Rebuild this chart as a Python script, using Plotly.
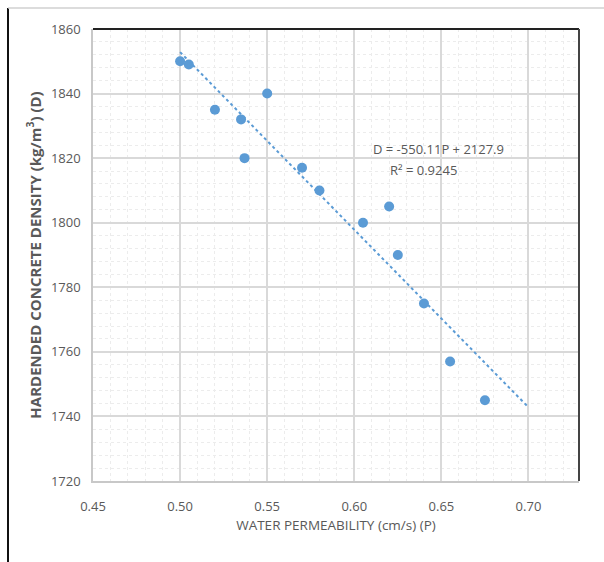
import plotly.graph_objects as go

# Data
permeability = [0.500, 0.505, 0.520, 0.535, 0.537, 0.550, 0.570, 0.580, 0.605, 0.620, 0.625, 0.640, 0.655, 0.675]
density = [1850, 1849, 1835, 1832, 1820, 1840, 1817, 1810, 1800, 1805, 1790, 1775, 1757, 1745]

# Linear trendline shown in the chart
slope = -550.11
intercept = 2127.9
trend_x = [0.50, 0.70]
trend_y = [slope * x + intercept for x in trend_x]

x_ticks = [0.45, 0.50, 0.55, 0.60, 0.65, 0.70]
y_ticks = [1720, 1740, 1760, 1780, 1800, 1820, 1840, 1860]

blue = "#5B9BD5"
font_family = "Open Sans, Liberation Sans, sans-serif"

fig = go.Figure()
fig.add_trace(go.Scatter(
    x=trend_x, y=trend_y, mode="lines",
    line=dict(color=blue, width=2, dash="dot"),
    hoverinfo="skip", showlegend=False))
fig.add_trace(go.Scatter(
    x=permeability, y=density, mode="markers",
    marker=dict(color=blue, size=10),
    showlegend=False))

W, H = 604, 562
L, R, T, B = 93, 25, 29, 81
pw, ph = W - L - R, H - T - B

def px(x):
    return (x - L) / pw

def py(y):
    return (H - B - y) / ph

fig.add_annotation(xref="paper", yref="paper", x=px(438), y=py(149),
                   xanchor="center", yanchor="middle",
                   text="D = -550.11P + 2127.9", showarrow=False,
                   font=dict(size=13, color="#595959", family=font_family))
fig.add_annotation(xref="paper", yref="paper", x=px(423), y=py(170),
                   xanchor="center", yanchor="middle",
                   text="R² = 0.9245", showarrow=False,
                   font=dict(size=13, color="#595959", family=font_family))

# outer frame lines
fig.add_shape(type="line", xref="paper", yref="paper",
              x0=px(8), x1=px(8), y0=py(8), y1=py(562),
              line=dict(color="#111111", width=2))
fig.add_shape(type="line", xref="paper", yref="paper",
              x0=px(8), x1=px(604), y0=py(8), y1=py(8),
              line=dict(color="#d0d0d0", width=1.5))
# plot area: dark top and right edges
fig.add_shape(type="line", xref="paper", yref="paper",
              x0=0, x1=1, y0=1, y1=1, line=dict(color="#222222", width=2))
fig.add_shape(type="line", xref="paper", yref="paper",
              x0=1, x1=1, y0=0, y1=1, line=dict(color="#444444", width=2))

fig.update_layout(
    width=W, height=H,
    margin=dict(l=L, r=R, t=T, b=B),
    paper_bgcolor="white", plot_bgcolor="white",
    font=dict(family=font_family, color="#595959", size=12),
    xaxis=dict(
        range=[0.45, 0.729], tickvals=x_ticks,
        ticktext=[f"{v:.2f}" for v in x_ticks],
        showgrid=True, gridcolor="#d9d9d9", gridwidth=1.5,
        zeroline=False, showline=True, linecolor="#c8c8c8", linewidth=1.5,
        ticks="outside", ticklen=13, tickcolor="rgba(0,0,0,0)",
        tickfont=dict(size=13, color="#595959"),
        minor=dict(dtick=0.01, showgrid=True, gridcolor="#ececec", griddash="dot", gridwidth=1),
        title=dict(text="WATER PERMEABILITY (cm/s) (P)", standoff=6,
                   font=dict(size=13.5, color="#595959")),
    ),
    yaxis=dict(
        range=[1720, 1860], tickvals=y_ticks,
        showgrid=True, gridcolor="#d9d9d9", gridwidth=1.5,
        zeroline=False, showline=True, linecolor="#c8c8c8", linewidth=1.5,
        ticks="outside", ticklen=8, tickcolor="rgba(0,0,0,0)",
        tickfont=dict(size=13, color="#595959"),
        minor=dict(dtick=4, showgrid=True, gridcolor="#ececec", griddash="dot", gridwidth=1),
        title=dict(text="<b>HARDENDED CONCRETE DENSITY (kg/m<sup>3</sup>) (D)</b>",
                   standoff=6, font=dict(size=15, color="#595959")),
    ),
)

fig.write_html("out.html")
